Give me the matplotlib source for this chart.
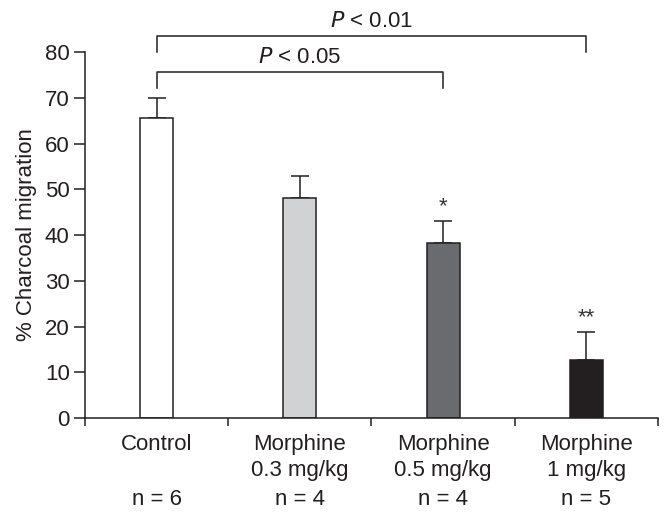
import numpy as np
import matplotlib.pyplot as plt

plt.rcParams['font.family'] = ['Liberation Sans', 'DejaVu Sans']

line1 = ['Control', 'Morphine', 'Morphine', 'Morphine']
line2 = ['', '0.3 mg/kg', '0.5 mg/kg', '1 mg/kg']
n_labels = ['n = 6', 'n = 4', 'n = 4', 'n = 5']
means = [65.6, 48.2, 38.2, 12.7]
sem = [4.3, 4.8, 4.9, 6.1]
stars = ['', '', '*', '**']
colors = ['#ffffff', '#d1d2d4', '#6a6b6f', '#231f20']
edge = '#231f20'
fs = 16

fig = plt.figure(figsize=(6.71, 5.17), dpi=100)
ax = fig.add_axes([0.1267, 0.1915, 0.8539, 0.7077])

x = np.arange(len(means))
ax.errorbar(x, means, yerr=[np.zeros(len(sem)), sem], fmt='none', ecolor=edge,
            elinewidth=1.1, capsize=6.8, capthick=1.1, zorder=1)
ax.bar(x, means, width=0.23, color=colors, edgecolor=edge, linewidth=1.1, zorder=2)

for i in range(len(means)):
    if stars[i]:
        ax.text(x[i], means[i] + sem[i] + 0.9, stars[i], ha='center', va='bottom',
                fontsize=fs, color='#333333')

ax.set_xlim(-0.5, 3.5)
ax.set_ylim(0, 80)
ax.set_yticks(range(0, 81, 10))
ax.tick_params(axis='y', direction='out', length=8, width=1.1, labelsize=fs,
               color=edge, labelcolor=edge, pad=3)
ax.set_xticks(np.arange(-0.5, 4.0, 1.0))
ax.set_xticklabels([])
ax.tick_params(axis='x', direction='out', length=6, width=1.1, color=edge)

# category labels, three rows under the axis
for i in range(len(x)):
    for txt, off in [(line1[i], 23.0), (line2[i], 41.5), (n_labels[i], 62.6)]:
        if txt:
            ax.annotate(txt, xy=(x[i], 0), xycoords=('data', 'axes fraction'),
                        xytext=(0, -off), textcoords='offset points',
                        ha='center', va='baseline', fontsize=fs, color=edge,
                        annotation_clip=False)

for s in ['top', 'right']:
    ax.spines[s].set_visible(False)
for s in ['left', 'bottom']:
    ax.spines[s].set_linewidth(1.1)
    ax.spines[s].set_color(edge)

ax.set_ylabel('% Charcoal migration', fontsize=fs, color=edge, labelpad=6)

# significance brackets
ax.plot([0, 0, 2, 2], [72.2, 75.7, 75.7, 72.2], color=edge, lw=1.1, clip_on=False)
ax.text(1.0, 76.6, '$\\it{P}$ < 0.05', ha='center', va='bottom', fontsize=fs, color=edge)
ax.plot([0, 0, 3, 3], [80.0, 83.5, 83.5, 80.0], color=edge, lw=1.1, clip_on=False)
ax.text(1.5, 84.4, '$\\it{P}$ < 0.01', ha='center', va='bottom', fontsize=fs, color=edge)

fig.savefig('out.png', dpi=100)
